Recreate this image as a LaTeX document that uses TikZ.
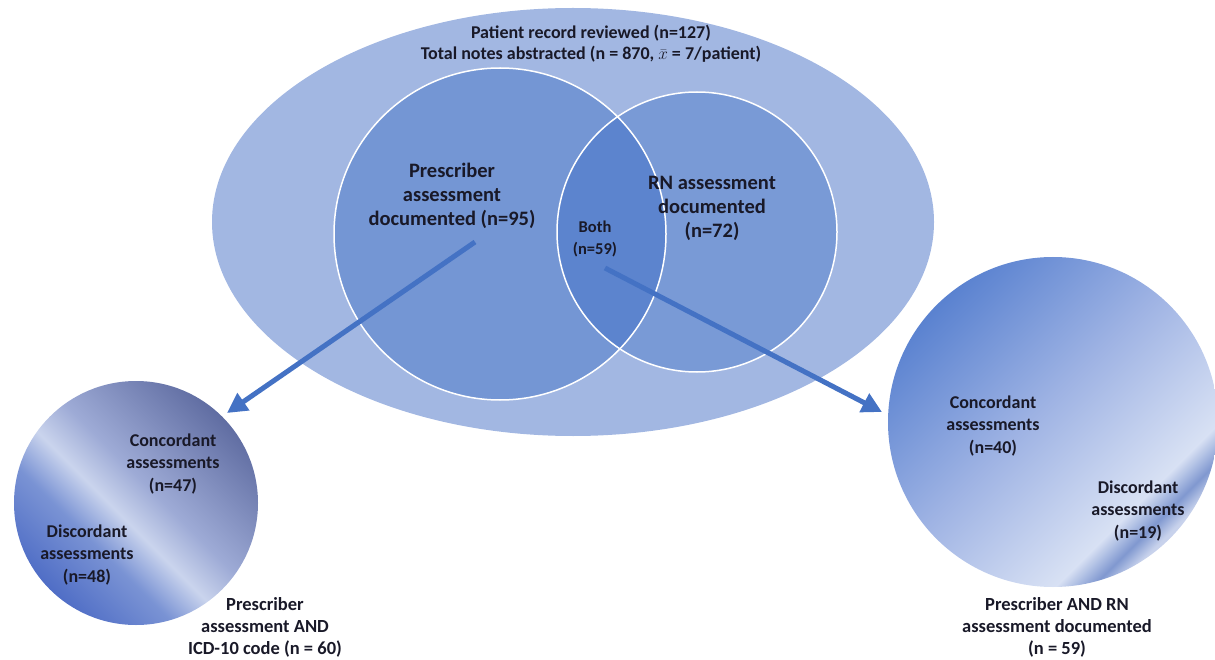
\documentclass[tikz,border=0pt]{standalone}
\usepackage{fontspec}
\setmainfont{Carlito}
\usetikzlibrary{arrows.meta}
\definecolor{ellcol}{RGB}{162,183,226}
\definecolor{pcol}{RGB}{116,150,212}
\definecolor{rcol}{RGB}{121,154,214}
\definecolor{lenscol}{RGB}{92,132,206}
\definecolor{arrcol}{RGB}{68,114,196}
\definecolor{txt}{RGB}{25,25,40}
\definecolor{la}{RGB}{80,110,198}
\definecolor{lb}{RGB}{122,147,212}
\definecolor{lc}{RGB}{202,212,237}
\definecolor{ld}{RGB}{158,171,214}
\definecolor{le}{RGB}{96,109,162}
\definecolor{ra}{RGB}{90,130,208}
\definecolor{rb}{RGB}{160,180,228}
\definecolor{rc}{RGB}{216,225,244}
\definecolor{rd}{RGB}{128,152,208}
\definecolor{re}{RGB}{200,210,236}
\pgfdeclarehorizontalshading{leftsh}{100bp}{color(0bp)=(la); color(25bp)=(la); color(38bp)=(lb); color(46bp)=(lc); color(54bp)=(ld); color(75bp)=(le); color(100bp)=(le)}
\pgfdeclarehorizontalshading{rightsh}{100bp}{color(0bp)=(ra); color(25bp)=(ra); color(48bp)=(rb); color(68bp)=(rc); color(72bp)=(rd); color(74.5bp)=(re); color(100bp)=(re)}
\begin{document}
\begin{tikzpicture}[x=1pt,y=-1pt,
  lbl/.style={text=txt, align=center, inner sep=0pt, font=\bfseries\fontsize{18}{22.5}\selectfont},
  botlbl/.style={lbl, font=\bfseries\fontsize{18.5}{22}\selectfont},
  biglbl/.style={lbl, font=\bfseries\fontsize{20.5}{24}\selectfont},
  toplbl/.style={lbl, font=\bfseries\fontsize{18}{21}\selectfont},
  bothlbl/.style={lbl, font=\bfseries\fontsize{16.5}{22}\selectfont},
  outline/.style={draw=white, line width=1.5pt},
  flowarrow/.style={draw=arrcol, line width=5pt, -{Triangle[width=20pt,length=20pt]}}]
\useasboundingbox (0,0) rectangle (1215,660);
% big ellipse
\fill[ellcol] (573,222) ellipse [x radius=361, y radius=214];
% Venn circles
\fill[pcol] (500,234) circle [radius=166];
\fill[rcol] (697,232) circle [radius=140];
\begin{scope}
  \clip (500,234) circle [radius=166];
  \fill[lenscol] (697,232) circle [radius=140];
\end{scope}
\draw[outline] (500,234) circle [radius=166];
\draw[outline] (697,232) circle [radius=140];
% result circles
\shade[shading=leftsh, shading angle=45] (136,503) circle [radius=122];
\shade[shading=rightsh, shading angle=-45] (1053,422) circle [radius=165];
% labels
\node[toplbl] (record) at (591,44) {Patient record reviewed (n=127)\\Total notes abstracted (n = 870, $\bar{x}$ = 7/patient)};
\node[biglbl] (presc) at (452,196) {Prescriber\\assessment\\documented (n=95)};
\node[biglbl] (rn) at (712,208) {RN assessment\\documented\\(n=72)};
\node[bothlbl] (both) at (595,239) {Both\\(n=59)};
\node[lbl] (lconc) at (173,464) {Concordant\\assessments\\(n=47)};
\node[lbl] (ldisc) at (87,555) {Discordant\\assessments\\(n=48)};
\node[botlbl] (lbot) at (265,627) {Prescriber\\assessment AND\\ICD-10 code (n = 60)};
\node[lbl] (rconc) at (993,426) {Concordant\\assessments\\(n=40)};
\node[lbl] (rdisc) at (1138,511) {Discordant\\assessments\\(n=19)};
\node[botlbl] (rbot) at (1057,627) {Prescriber AND RN\\assessment documented\\(n = 59)};
% arrows
\coordinate (a1s) at (475,242);
\coordinate (a1e) at (227,413);
\coordinate (a2s) at (605,268);
\coordinate (a2e) at (882,412);
\draw[flowarrow] (a1s) -- (a1e);
\draw[flowarrow] (a2s) -- (a2e);
\end{tikzpicture}
\end{document}
